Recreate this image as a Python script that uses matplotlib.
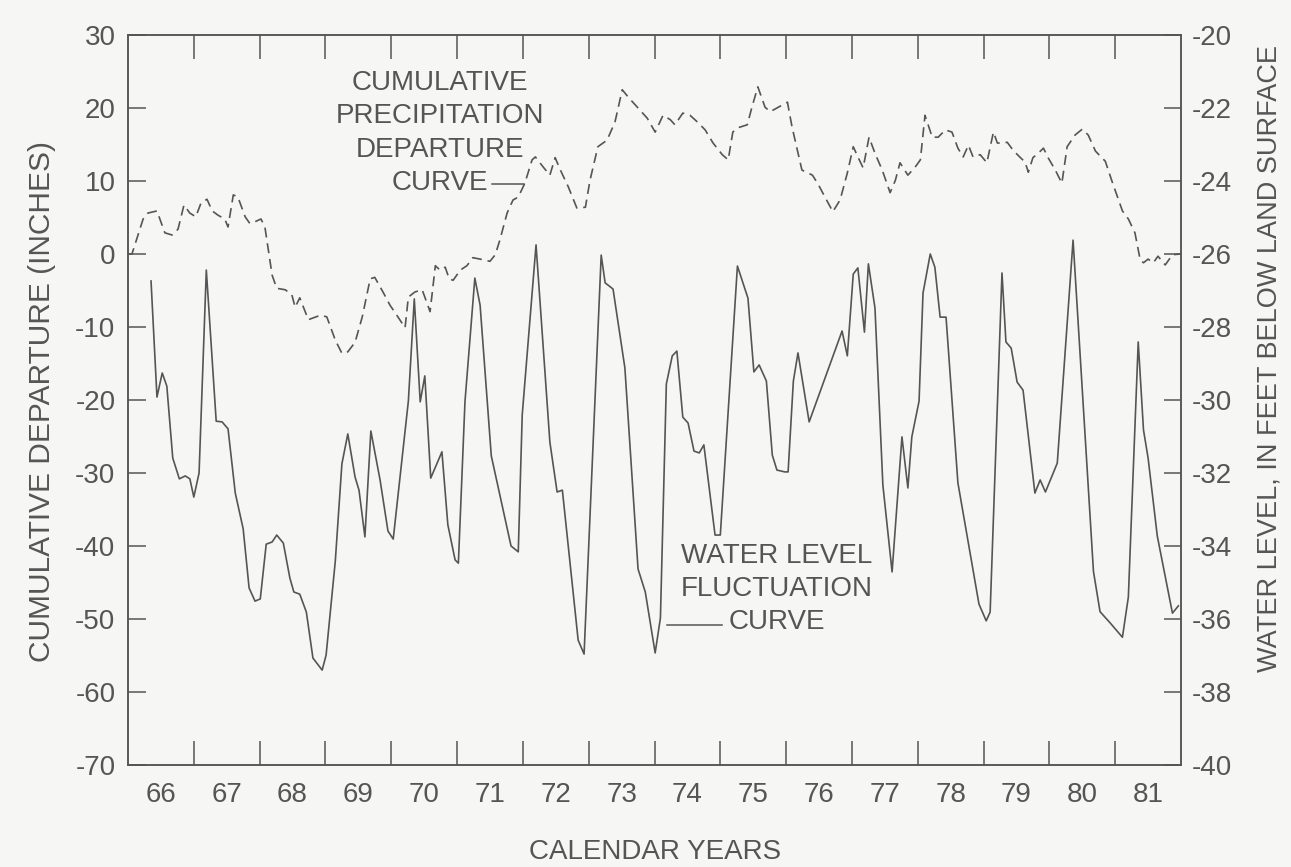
import matplotlib
matplotlib.use('Agg')
import matplotlib.pyplot as plt

# cumulative precipitation departure (inches)
precip_year = [66.00, 66.06, 66.23, 66.30, 66.44, 66.56, 66.67, 66.76, 66.85, 66.94,
               67.03, 67.11, 67.20, 67.28, 67.37, 67.47, 67.52, 67.60, 67.67, 67.78,
               67.85, 67.95, 68.02, 68.08, 68.19, 68.26, 68.39, 68.49, 68.54, 68.61,
               68.74, 68.92, 69.02, 69.15, 69.25, 69.34, 69.45, 69.56, 69.68, 69.75,
               69.88, 69.98, 70.10, 70.21, 70.26, 70.36, 70.47, 70.51, 70.59, 70.67,
               70.74, 70.82, 70.88, 70.94, 71.05, 71.15, 71.24, 71.35, 71.50, 71.58,
               71.65, 71.76, 71.85, 71.93, 72.03, 72.14, 72.19, 72.31, 72.41, 72.49,
               72.57, 72.69, 72.82, 72.95, 73.02, 73.14, 73.28, 73.40, 73.51, 73.60,
               73.74, 73.89, 74.01, 74.13, 74.24, 74.31, 74.43, 74.54, 74.65, 74.77,
               74.89, 75.03, 75.12, 75.19, 75.27, 75.41, 75.48, 75.57, 75.68, 75.76,
               75.88, 76.02, 76.09, 76.24, 76.40, 76.49, 76.59, 76.71, 76.82, 76.93,
               77.02, 77.09, 77.17, 77.26, 77.35, 77.46, 77.58, 77.66, 77.73, 77.85,
               77.96, 78.04, 78.11, 78.22, 78.31, 78.42, 78.52, 78.61, 78.69, 78.77,
               78.84, 78.95, 79.05, 79.15, 79.21, 79.28, 79.36, 79.45, 79.56, 79.63,
               79.68, 79.75, 79.83, 79.91, 79.98, 80.09, 80.19, 80.27, 80.39, 80.50,
               80.59, 80.70, 80.85, 80.95, 81.11, 81.20, 81.30, 81.38, 81.43, 81.50,
               81.58, 81.65, 81.76, 81.87, 81.99]
precip_dep = [0.0, 0.0, 4.8, 5.6, 5.9, 2.9, 2.6, 3.4, 6.7, 5.6,
              5.1, 7.0, 7.5, 5.9, 5.3, 4.8, 3.7, 8.1, 7.8, 5.1,
              4.2, 4.5, 4.8, 3.7, -2.9, -4.7, -4.9, -5.6, -7.3, -6.0,
              -9.0, -8.4, -8.6, -11.8, -13.6, -13.4, -12.1, -8.6, -3.4, -3.2,
              -5.3, -7.0, -8.6, -10.1, -5.9, -5.2, -4.9, -5.9, -7.9, -1.6,
              -2.2, -1.8, -3.4, -3.6, -2.2, -1.6, -0.5, -0.7, -1.0, -0.1,
              1.9, 5.6, 7.4, 7.8, 9.7, 12.9, 13.3, 11.9, 10.8, 13.2,
              11.5, 9.2, 6.3, 6.4, 10.1, 14.7, 15.6, 18.1, 22.5, 21.5,
              20.1, 18.6, 16.7, 19.0, 18.4, 17.7, 19.3, 19.0, 18.1, 17.0,
              15.2, 13.6, 12.9, 16.7, 17.3, 17.7, 20.1, 22.9, 20.1, 19.5,
              20.1, 20.8, 17.4, 11.5, 10.8, 9.5, 7.8, 5.8, 7.4, 11.1,
              14.7, 13.3, 11.8, 16.0, 13.8, 11.5, 8.4, 10.1, 12.5, 10.8,
              11.9, 12.9, 19.0, 16.0, 16.0, 17.0, 16.7, 14.5, 13.3, 14.9,
              13.3, 13.6, 12.5, 16.7, 15.2, 15.2, 15.3, 14.2, 13.2, 12.6,
              11.2, 13.2, 13.8, 14.5, 13.2, 11.5, 9.7, 14.7, 16.3, 17.1,
              16.3, 14.1, 12.7, 10.0, 5.9, 4.8, 2.9, -0.8, -1.2, -0.7,
              -1.2, -0.3, -1.5, -0.1, 0.0]

# water level (feet below land surface)
level_year = [66.35, 66.44, 66.52, 66.59, 66.68, 66.78, 66.87, 66.94, 67.00, 67.08,
              67.19, 67.34, 67.43, 67.52, 67.63, 67.75, 67.84, 67.93, 68.01, 68.10,
              68.19, 68.26, 68.36, 68.46, 68.52, 68.61, 68.71, 68.81, 68.95, 69.01,
              69.15, 69.25, 69.34, 69.45, 69.51, 69.60, 69.69, 69.83, 69.95, 70.03,
              70.10, 70.26, 70.35, 70.44, 70.51, 70.60, 70.77, 70.86, 70.97, 71.02,
              71.12, 71.27, 71.35, 71.52, 71.82, 71.93, 71.99, 72.20, 72.41, 72.52,
              72.60, 72.84, 72.93, 73.19, 73.25, 73.37, 73.55, 73.75, 73.86, 74.01,
              74.09, 74.18, 74.27, 74.34, 74.43, 74.51, 74.60, 74.68, 74.75, 74.92,
              75.00, 75.26, 75.42, 75.51, 75.59, 75.70, 75.79, 75.86, 75.98, 76.03,
              76.11, 76.18, 76.35, 76.85, 76.93, 77.02, 77.09, 77.19, 77.25, 77.35,
              77.47, 77.61, 77.76, 77.85, 77.91, 78.02, 78.08, 78.19, 78.26, 78.34,
              78.43, 78.61, 78.93, 79.04, 79.10, 79.28, 79.34, 79.42, 79.51, 79.60,
              79.78, 79.86, 79.94, 80.12, 80.36, 80.67, 80.77, 80.92, 81.11, 81.20,
              81.35, 81.43, 81.50, 81.64, 81.87, 81.96]
level_ft = [-26.74, -29.92, -29.26, -29.62, -31.59, -32.16, -32.08, -32.16, -32.66, -32.00,
            -26.44, -30.58, -30.60, -30.79, -32.55, -33.53, -35.15, -35.51, -35.45, -33.95,
            -33.89, -33.70, -33.92, -34.88, -35.26, -35.32, -35.81, -37.07, -37.40, -36.99,
            -34.41, -31.75, -30.93, -32.11, -32.47, -33.75, -30.85, -32.19, -33.59, -33.81,
            -32.66, -30.03, -27.23, -30.05, -29.34, -32.14, -31.42, -33.42, -34.38, -34.47,
            -30.05, -26.66, -27.40, -31.53, -34.00, -34.16, -30.41, -25.75, -31.15, -32.52,
            -32.47, -36.58, -36.96, -26.03, -26.79, -26.96, -29.12, -34.63, -35.26, -36.93,
            -35.97, -29.56, -28.79, -28.66, -30.47, -30.63, -31.40, -31.45, -31.23, -33.70,
            -33.70, -26.33, -27.21, -29.23, -29.04, -29.48, -31.51, -31.92, -31.97, -31.97,
            -29.48, -28.71, -30.60, -28.11, -28.79, -26.55, -26.38, -28.14, -26.27, -27.48,
            -32.33, -34.71, -31.01, -32.41, -31.01, -30.03, -27.07, -26.00, -26.36, -27.73,
            -27.73, -32.27, -35.59, -36.05, -35.81, -26.52, -28.41, -28.58, -29.51, -29.73,
            -32.55, -32.19, -32.52, -31.73, -25.62, -34.70, -35.80, -36.10, -36.50, -35.40,
            -28.41, -30.82, -31.59, -33.73, -35.84, -35.64]

year_names = ['66', '67', '68', '69', '70', '71', '72', '73',
              '74', '75', '76', '77', '78', '79', '80', '81']

bg = '#f6f6f4'
ink = '#555555'

plt.rcParams['font.family'] = ['Liberation Sans', 'DejaVu Sans']
plt.rcParams['axes.unicode_minus'] = False

W, H = 1291, 867
fig = plt.figure(figsize=(W / 100, H / 100), dpi=100, facecolor=bg)
ax = fig.add_axes([128 / W, 102 / H, 1053 / W, 730 / H])
ax.set_facecolor(bg)

ax.plot(precip_year, precip_dep, color=ink, lw=1.2, dashes=(6, 3.5))
ax.set_xlim(66, 82)
ax.set_ylim(-70, 30)
ax.set_yticks(range(-70, 31, 10))
ax.set_xticks(range(67, 82))
ax.set_xticklabels([])
ax.set_xticks([i + 66.5 for i in range(len(year_names))], minor=True)
ax.set_xticklabels(year_names, minor=True)
ax.tick_params(axis='x', which='major', direction='in', top=True, bottom=True,
               length=17, width=1.1, color=ink)
ax.tick_params(axis='x', which='minor', length=0, pad=12, labelsize=20, labelcolor=ink)
ax.tick_params(axis='y', direction='in', length=13, width=1.1, color=ink,
               pad=9, labelsize=20, labelcolor=ink)

ax2 = ax.twinx()
ax2.plot(level_year, level_ft, color=ink, lw=1.2)
ax2.set_ylim(-40, -20)
ax2.set_yticks(range(-40, -19, 2))
ax2.tick_params(axis='y', direction='in', length=12, width=1.1, color=ink,
                pad=8, labelsize=20, labelcolor=ink)

for a in (ax, ax2):
    for s in a.spines.values():
        s.set_color(ink)
        s.set_linewidth(1.1)

# axis titles
fig.text(42 / W, 1 - 402 / H, 'CUMULATIVE DEPARTURE (INCHES)', rotation=90,
         ha='center', va='center', fontsize=21.5, color=ink)
fig.text(1270 / W, 1 - 358 / H, 'WATER LEVEL, IN FEET BELOW LAND SURFACE', rotation=90,
         ha='center', va='center', fontsize=19.5, color=ink)
fig.text(655 / W, 1 - 852 / H, 'CALENDAR YEARS', ha='center', va='center',
         fontsize=20, color=ink)

# curve labels
def axfrac(px, py):
    return (px - 128) / 1053, (765 - py) / 730

x0, y0 = axfrac(440, 133)
ax.text(x0, y0, 'CUMULATIVE\nPRECIPITATION\nDEPARTURE\nCURVE', transform=ax.transAxes,
        ha='center', va='center', ma='center', fontsize=20, color=ink, linespacing=1.36)
xa, ya = axfrac(492, 184)
xb, yb = axfrac(524, 184)
ax.plot([xa, xb], [ya, yb], transform=ax.transAxes, color=ink, lw=1.1)

x1, y1 = axfrac(777, 589)
ax.text(x1, y1, 'WATER LEVEL\nFLUCTUATION\nCURVE', transform=ax.transAxes,
        ha='center', va='center', ma='center', fontsize=20, color=ink, linespacing=1.36)
xa, ya = axfrac(667, 625)
xb, yb = axfrac(722, 625)
ax.plot([xa, xb], [ya, yb], transform=ax.transAxes, color=ink, lw=1.1)

fig.savefig('out.png', dpi=100, facecolor=bg)
